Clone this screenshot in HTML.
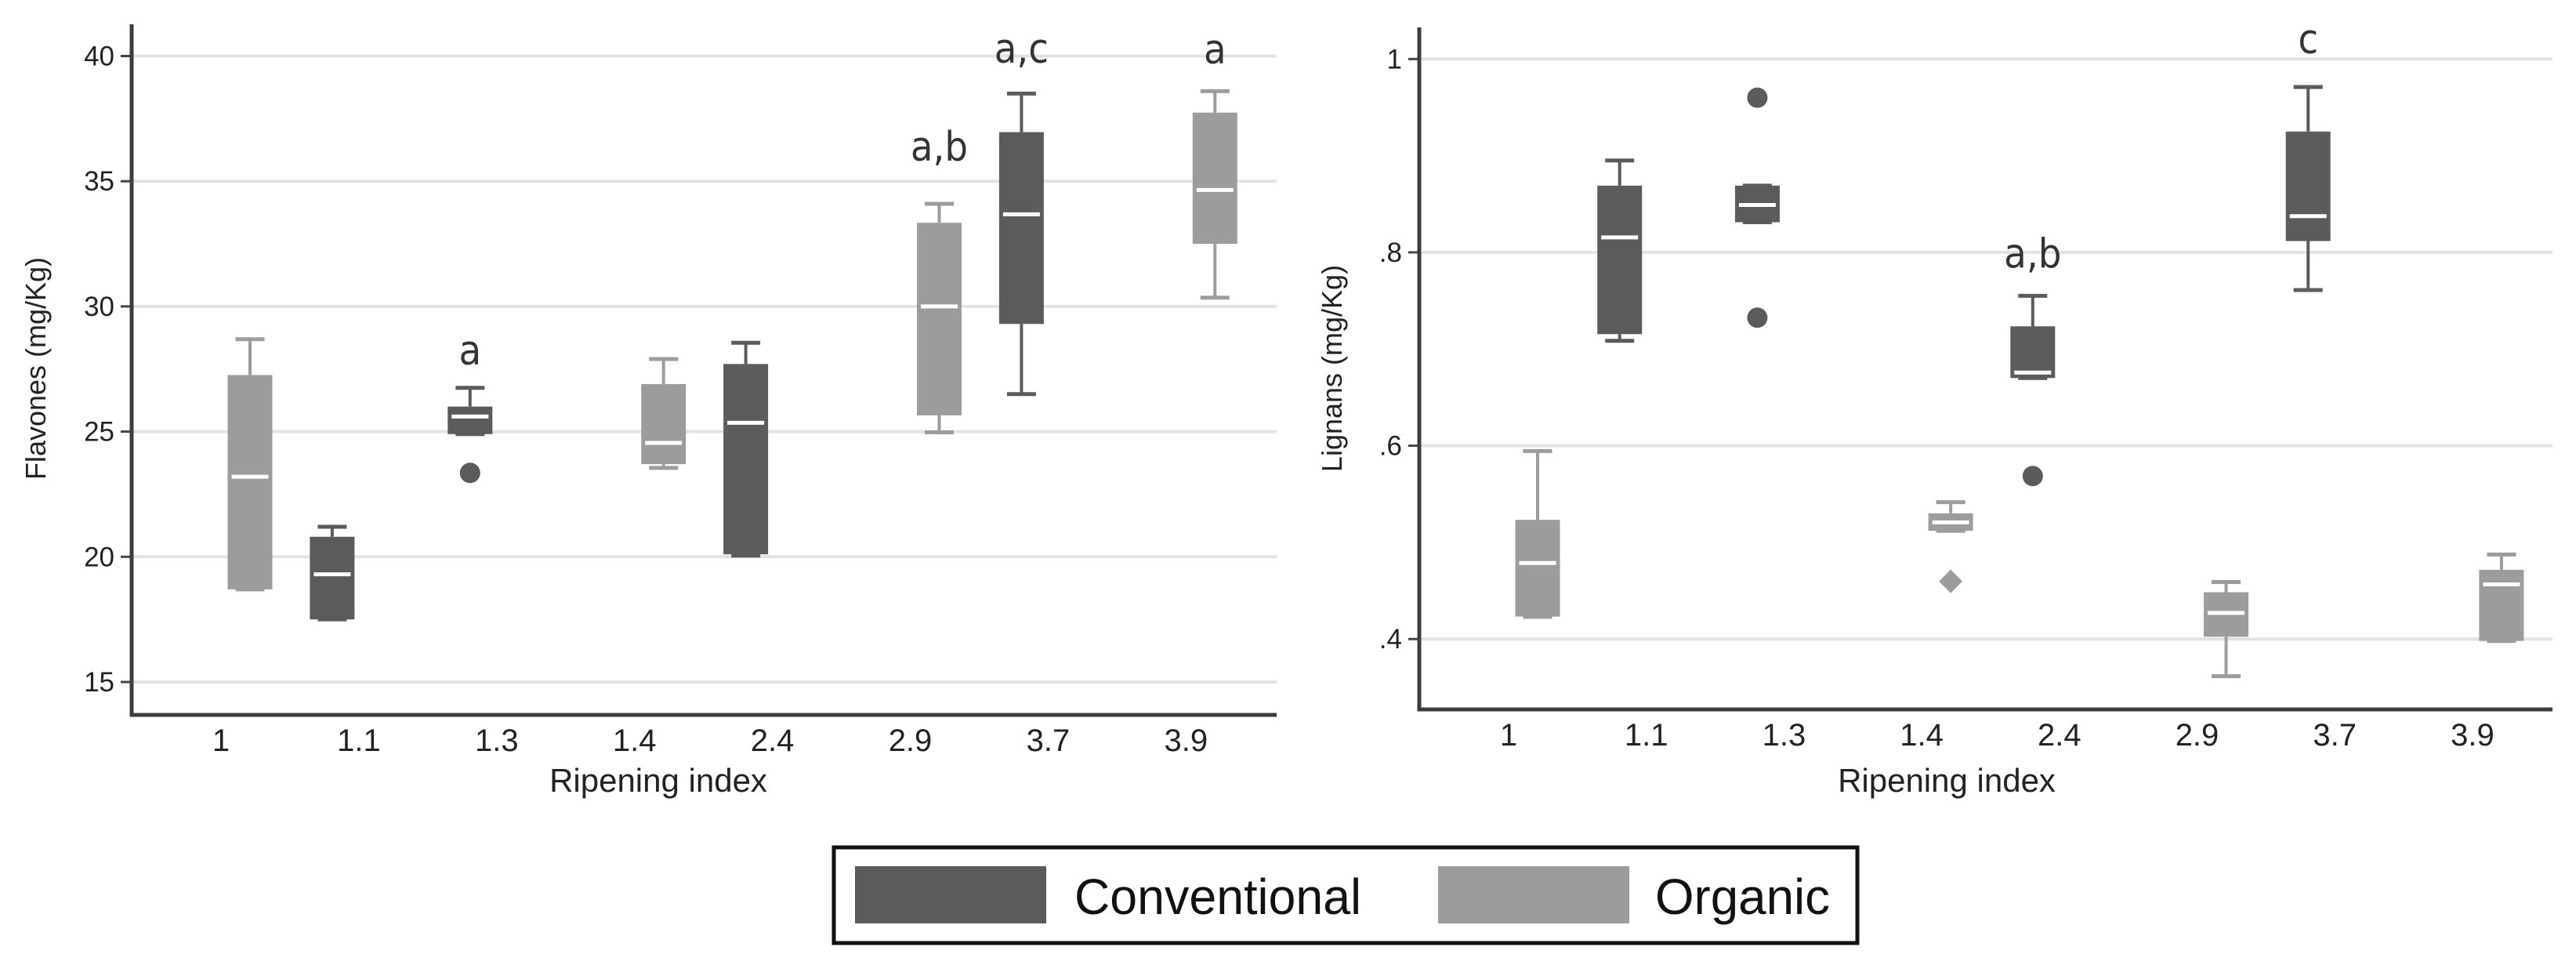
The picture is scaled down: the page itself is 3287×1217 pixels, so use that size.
<!DOCTYPE html>
<html><head><meta charset="utf-8">
<style>
html,body{margin:0;padding:0;background:#fff;}
svg{display:block;font-family:"Liberation Sans",Arial,sans-serif;}
</style></head>
<body>
<svg id="chart" width="3287" height="1217" viewBox="0 0 3287 1217" xmlns="http://www.w3.org/2000/svg">
  <rect x="0" y="0" width="3287" height="1217" fill="#fff"/>
  <g id="leftPanel"></g>
  <g id="rightPanel"></g>
  <g>
    <rect x="1064" y="1081" width="1306" height="122" fill="#fff" stroke="#111" stroke-width="5"/>
    <rect x="1091" y="1105" width="244" height="73" fill="#5b5b5b"/>
    <text x="1371" y="1166" font-size="64" fill="#111" textLength="366" lengthAdjust="spacingAndGlyphs">Conventional</text>
    <rect x="1835" y="1105" width="244" height="73" fill="#9c9c9c"/>
    <text x="2112" y="1166" font-size="64" fill="#111" textLength="223" lengthAdjust="spacingAndGlyphs">Organic</text>
  </g>
</svg>
<script>
// ---- data ----
const categories = ["1","1.1","1.3","1.4","2.4","2.9","3.7","3.9"];
const groups = ["organic","conventional","conventional","organic","conventional","organic","conventional","organic"];
// Flavones (mg/Kg): [min, q1, median, q3, max]
const flavMin = [18.7, 17.5, 24.9, 23.55, 20.05, 24.97, 26.5, 30.35];
const flavQ1  = [18.7, 17.5, 24.9, 23.7, 20.1, 25.65, 29.3, 32.5];
const flavMed = [23.2, 19.3, 25.6, 24.55, 25.35, 30.0, 33.68, 34.65];
const flavQ3  = [27.26, 20.8, 26.0, 26.9, 27.7, 33.34, 36.96, 37.74];
const flavMax = [28.69, 21.2, 26.75, 27.9, 28.55, 34.1, 38.5, 38.6];
const flavOutCat = [2];
const flavOutVal = [23.35];
const flavLetterCat = [2, 5, 6, 7];
const flavLetters = ["a", "a,b", "a,c", "a"];
const flavLetterVal = [27.68, 35.82, 39.73, 39.7];
const flavTicks = [15, 20, 25, 30, 35, 40];
const flavTickLabels = ["15","20","25","30","35","40"];
// Lignans (mg/Kg)
const ligMin = [0.423, 0.7085, 0.8312, 0.512, 0.670, 0.3615, 0.761, 0.398];
const ligQ1  = [0.4232, 0.7154, 0.8312, 0.512, 0.670, 0.4024, 0.8117, 0.398];
const ligMed = [0.4786, 0.8155, 0.849, 0.5207, 0.6757, 0.427, 0.8375, 0.4565];
const ligQ3  = [0.5233, 0.869, 0.869, 0.530, 0.7235, 0.4484, 0.925, 0.4716];
const ligMax = [0.5945, 0.895, 0.869, 0.5416, 0.755, 0.459, 0.971, 0.4874];
const ligOutCat = [2, 2, 4, 3];
const ligOutVal = [0.960, 0.7324, 0.5686, 0.4597];
const ligOutShape = ["circle","circle","circle","diamond"];
const ligLetterCat = [4, 6];
const ligLetters = ["a,b", "c"];
const ligLetterVal = [0.784, 1.006];
const ligTicks = [0.4, 0.6, 0.8, 1.0];
const ligTickLabels = [".4", ".6", ".8", "1"];

const NS = "http://www.w3.org/2000/svg";
const COLORS = {conventional: "#5b5b5b", organic: "#9c9c9c"};
function mk(parent, tag, attrs) {
  const el = document.createElementNS(NS, tag);
  for (const k in attrs) el.setAttribute(k, attrs[k]);
  parent.appendChild(el);
  return el;
}

function drawPanel(g, cfg) {
  const yScale = v => cfg.y0px + (v - cfg.v0) / (cfg.v1 - cfg.v0) * (cfg.y1px - cfg.y0px);
  const xTick = i => cfg.firstTick + i * cfg.step;
  const xBox = i => xTick(i) + (groups[i] === "organic" ? 37 : -34);
  cfg.ticks.forEach((t, i) => {
    const y = yScale(t);
    const gl = mk(g, "line", {x1: cfg.axisX, x2: cfg.right, y1: y, y2: y, stroke: "#e2e2e2", "stroke-width": 4});
    
    
    const tk = mk(g, "line", {x1: cfg.axisX - 14, x2: cfg.axisX, y1: y, y2: y, stroke: "#444", "stroke-width": 3});
    
    
    const tl = mk(g, "text", {x: cfg.axisX - 22, y: y + 12, "font-size": 35, fill: "#222", "text-anchor": "end"});
    tl.textContent = cfg.tickLabels[i];
    
    
  });
  const ax = mk(g, "path", {d: `M${cfg.axisX},${cfg.top} V${cfg.axisY} H${cfg.right}`, fill: "none", stroke: "#3c3c3c", "stroke-width": 5});
  
  
  categories.forEach((c, i) => {
    const t = mk(g, "text", {x: xTick(i), y: cfg.axisY + 46, "font-size": 40, fill: "#222", "text-anchor": "middle"});
    t.textContent = c;
    
    
  });
  const xt = mk(g, "text", {x: cfg.titleX, y: 1010, "font-size": 42, fill: "#222", "text-anchor": "middle"});
  xt.textContent = "Ripening index";
  
  
  const yt = mk(g, "text", {x: 0, y: 0, "font-size": 36, fill: "#222", "text-anchor": "middle", transform: `translate(${cfg.yTitleX},${cfg.yTitleY}) rotate(-90)`});
  yt.textContent = cfg.yTitle;
  
  
  const bw = 57, cw = 37;
  categories.forEach((c, i) => {
    const col = COLORS[groups[i]];
    const cx = xBox(i);
    const bg = mk(g, "g", {});
    
    
    const yMin = yScale(cfg.min[i]), yQ1 = yScale(cfg.q1[i]), yMed = yScale(cfg.med[i]), yQ3 = yScale(cfg.q3[i]), yMax = yScale(cfg.max[i]);
    mk(bg, "line", {x1: cx, x2: cx, y1: yMax, y2: yQ3, stroke: col, "stroke-width": 4});
    mk(bg, "line", {x1: cx, x2: cx, y1: yQ1, y2: yMin, stroke: col, "stroke-width": 4});
    mk(bg, "line", {x1: cx - cw/2, x2: cx + cw/2, y1: yMax, y2: yMax, stroke: col, "stroke-width": 5});
    mk(bg, "line", {x1: cx - cw/2, x2: cx + cw/2, y1: yMin, y2: yMin, stroke: col, "stroke-width": 5});
    mk(bg, "rect", {x: cx - bw/2, y: yQ3, width: bw, height: Math.max(yQ1 - yQ3, 3), fill: col});
    mk(bg, "line", {x1: cx - bw/2 + 5, x2: cx + bw/2 - 5, y1: yMed, y2: yMed, stroke: "#fff", "stroke-width": 5});
  });
  cfg.outCat.forEach((ci, k) => {
    const cx = xBox(ci), cy = yScale(cfg.outVal[k]);
    const col = COLORS[groups[ci]];
    let o;
    if (cfg.outShape && cfg.outShape[k] === "diamond") {
      o = mk(g, "path", {d: `M${cx},${cy-15} L${cx+15},${cy} L${cx},${cy+15} L${cx-15},${cy} Z`, fill: col});
    } else {
      o = mk(g, "circle", {cx: cx, cy: cy, r: 13, fill: col});
    }
    
    
  });
  cfg.letterCat.forEach((ci, k) => {
    const t = mk(g, "text", {x: xBox(ci), y: yScale(cfg.letterVal[k]), "font-size": 52, fill: "#333", "text-anchor": "middle", "font-family": "DejaVu Sans Condensed, Liberation Sans, sans-serif"});
    t.textContent = cfg.letters[k];
    
    
  });
}

drawPanel(document.getElementById("leftPanel"), {
  v0: 15, v1: 40, y0px: 870, y1px: 71.5, axisX: 168, axisY: 912, top: 31, right: 1629,
  firstTick: 282, step: 175.9, ticks: flavTicks, tickLabels: flavTickLabels,
  min: flavMin, q1: flavQ1, med: flavMed, q3: flavQ3, max: flavMax,
  outCat: flavOutCat, outVal: flavOutVal, outShape: null,
  letterCat: flavLetterCat, letters: flavLetters, letterVal: flavLetterVal,
  titleX: 840, yTitleX: 58, yTitleY: 470, yTitle: "Flavones (mg/Kg)"
});
drawPanel(document.getElementById("rightPanel"), {
  v0: 0.4, v1: 1.0, y0px: 815.2, y1px: 75.3, axisX: 1811, axisY: 905, top: 35, right: 3257,
  firstTick: 1925, step: 175.7, ticks: ligTicks, tickLabels: ligTickLabels,
  min: ligMin, q1: ligQ1, med: ligMed, q3: ligQ3, max: ligMax,
  outCat: ligOutCat, outVal: ligOutVal, outShape: ligOutShape,
  letterCat: ligLetterCat, letters: ligLetters, letterVal: ligLetterVal,
  titleX: 2484, yTitleX: 1712, yTitleY: 470, yTitle: "Lignans (mg/Kg)"
});
</script>
</body></html>
